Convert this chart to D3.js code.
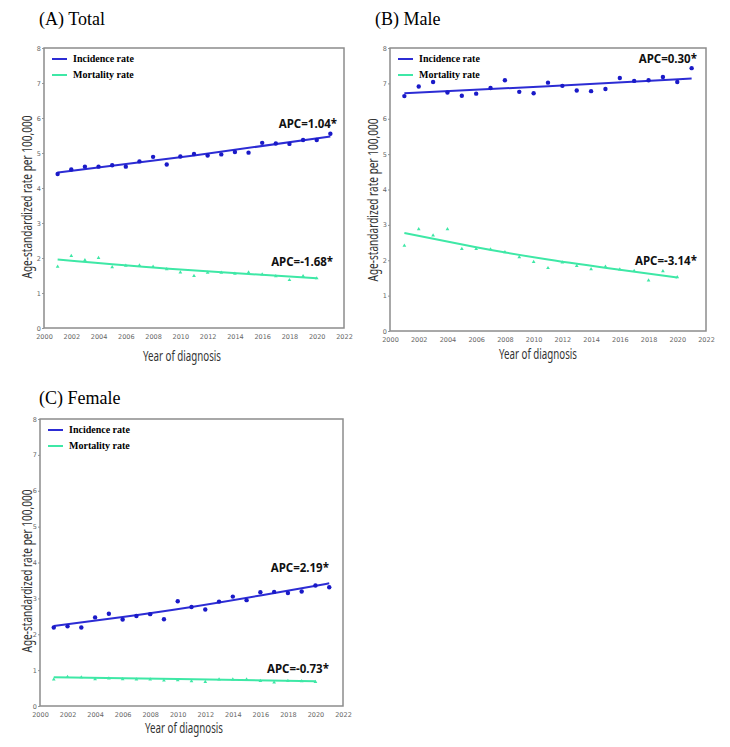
<!DOCTYPE html>
<html>
<head>
<meta charset="utf-8">
<script src="https://cdn.jsdelivr.net/npm/d3@7"></script>
<style>
  body { margin: 0; background: #fff; }
  svg { display: block; }
</style>
</head>
<body>
<svg id="chart" width="730" height="747"></svg>
<script>
// years
const incYears = d3.range(2001, 2022);
const morYears = d3.range(2001, 2021);

// (A) Total
const totalInc = [4.40, 4.53, 4.61, 4.61, 4.65, 4.61, 4.76, 4.89, 4.67, 4.90, 4.97, 4.93, 4.96, 5.03, 5.01, 5.29, 5.27, 5.26, 5.37, 5.37, 5.55];
const totalMor = [1.75, 2.06, 1.94, 2.00, 1.74, 1.78, 1.79, 1.75, 1.68, 1.59, 1.49, 1.58, 1.58, 1.55, 1.59, 1.53, 1.48, 1.37, 1.48, 1.42];
const totalIncFit = [[2001, 4.44], [2011, 4.93], [2021, 5.47]];
const totalMorFit = [[2001, 1.96], [2010, 1.67], [2020, 1.42]];

// (B) Male
const maleInc = [6.64, 6.91, 7.04, 6.74, 6.65, 6.71, 6.87, 7.09, 6.76, 6.72, 7.02, 6.93, 6.80, 6.78, 6.84, 7.15, 7.07, 7.09, 7.18, 7.04, 7.43];
const maleMor = [2.41, 2.88, 2.70, 2.88, 2.32, 2.32, 2.31, 2.23, 2.09, 1.95, 1.78, 1.94, 1.84, 1.75, 1.82, 1.74, 1.70, 1.43, 1.69, 1.52];
const maleIncFit = [[2001, 6.72], [2011, 6.92], [2021, 7.14]];
const maleMorFit = [[2001, 2.77], [2006, 2.37], [2011, 2.02], [2016, 1.73], [2020, 1.51]];

// (C) Female
const femaleInc = [2.19, 2.22, 2.19, 2.47, 2.57, 2.41, 2.51, 2.56, 2.42, 2.92, 2.76, 2.69, 2.91, 3.05, 2.95, 3.17, 3.18, 3.15, 3.19, 3.36, 3.31];
const femaleMor = [0.74, 0.81, 0.80, 0.75, 0.77, 0.75, 0.74, 0.74, 0.71, 0.72, 0.69, 0.67, 0.74, 0.74, 0.74, 0.70, 0.66, 0.70, 0.69, 0.67];
const femaleIncFit = [[2001, 2.23], [2006, 2.48], [2011, 2.76], [2016, 3.08], [2021, 3.42]];
const femaleMorFit = [[2001, 0.80], [2010, 0.75], [2020, 0.69]];

const xTicks = d3.range(2000, 2023, 2);
const yTicks = d3.range(0, 9, 1);
const legendLabels = ['Incidence rate', 'Mortality rate'];

const incColor = '#2c2cd4';
const incDot = '#1a1ac8';
const morColor = '#3ee8a6';

const svg = d3.select('#chart');

const panels = [
    {title: '(A) Total', tx: 39, ty: 25, box: {l: 44, r: 344, t: 48, b: 328},
     inc: totalInc, mor: totalMor, incFit: totalIncFit, morFit: totalMorFit,
     apc: [['APC=1.04*', 2021.49, 5.71], ['APC=-1.68*', 2021.2, 1.77]],
     ylab: {x: 27, y: 197}, xlab: {x: 182, y: 361}},
    {title: '(B) Male', tx: 375, ty: 25, box: {l: 390, r: 706, t: 48, b: 331},
     inc: maleInc, mor: maleMor, incFit: maleIncFit, morFit: maleMorFit,
     apc: [['APC=0.30*', 2021.37, 7.58], ['APC=-3.14*', 2021.37, 1.87]],
     ylab: {x: 373, y: 200}, xlab: {x: 538, y: 359}},
    {title: '(C) Female', tx: 39, ty: 404, box: {l: 40, r: 343, t: 419, b: 706},
     inc: femaleInc, mor: femaleMor, incFit: femaleIncFit, morFit: femaleMorFit,
     apc: [['APC=2.19*', 2020.98, 3.73], ['APC=-0.73*', 2020.98, 0.92]],
     ylab: {x: 27, y: 571}, xlab: {x: 184, y: 733}}
];

panels.forEach(p => {
    const b = p.box;
    const x = d3.scaleLinear().domain([2000, 2022]).range([b.l, b.r]);
    const y = d3.scaleLinear().domain([0, 8]).range([b.b, b.t]);
    const g = svg.append('g');

    // titre
    svg.append('text')
        .attr('x', p.tx).attr('y', p.ty)
        .style('font-family', '"Liberation Serif", "Times New Roman", serif')
        .style('font-size', '18px')
        .text(p.title);

    // axes
    const xa = g.append('g')
        .attr('transform', `translate(0,${b.b})`)
        .call(d3.axisBottom(x).tickValues(xTicks).tickFormat(d3.format('d')).tickSize(0).tickPadding(6));
    const ya = g.append('g')
        .attr('transform', `translate(${b.l},0)`)
        .call(d3.axisLeft(y).tickValues(yTicks).tickSize(2).tickPadding(1));
    [xa, ya].forEach(a => {
        a.select('.domain').remove();
        a.selectAll('text')
            .style('font-family', '"DejaVu Sans", sans-serif')
            .style('font-size', '6.5px')
            .style('fill', '#666');
        a.selectAll('line').style('stroke', '#999');
    });

    // cadre
    g.append('rect')
        .attr('x', b.l).attr('y', b.t)
        .attr('width', b.r - b.l).attr('height', b.b - b.t)
        .style('fill', 'none')
        .style('stroke', '#8c8c8c')
        .style('stroke-width', 1.5);

    // labels
    svg.append('text')
        .attr('transform', `translate(${p.ylab.x},${p.ylab.y}) rotate(-90)`)
        .attr('text-anchor', 'middle')
        .attr('dy', '0.35em')
        .attr('textLength', 163)
        .attr('lengthAdjust', 'spacingAndGlyphs')
        .style('font-family', '"Noto Sans", sans-serif')
        .style('font-size', '14px')
        .style('fill', '#333')
        .text('Age-standardized rate per 100,000');
    svg.append('text')
        .attr('x', p.xlab.x).attr('y', p.xlab.y)
        .attr('text-anchor', 'middle')
        .attr('textLength', 78)
        .attr('lengthAdjust', 'spacingAndGlyphs')
        .style('font-family', '"Noto Sans", sans-serif')
        .style('font-size', '14px')
        .style('fill', '#333')
        .text('Year of diagnosis');

    const line = d3.line()
        .x(d => x(d[0]))
        .y(d => y(d[1]))
        .curve(d3.curveNatural);

    // courbes de tendance
    g.append('path').datum(p.incFit)
        .attr('d', line)
        .style('fill', 'none').style('stroke', incColor).style('stroke-width', 2);
    g.append('path').datum(p.morFit)
        .attr('d', line)
        .style('fill', 'none').style('stroke', morColor).style('stroke-width', 2);

    // points
    g.selectAll('.inc').data(p.inc).join('circle')
        .attr('cx', (d, i) => x(incYears[i]))
        .attr('cy', d => y(d))
        .attr('r', 2.2)
        .style('fill', incDot);
    g.selectAll('.mor').data(p.mor).join('path')
        .attr('transform', (d, i) => `translate(${x(morYears[i])},${y(d)})`)
        .attr('d', d3.symbol(d3.symbolTriangle, 6))
        .style('fill', morColor);

    // APC
    p.apc.forEach(a => {
        svg.append('text')
            .attr('x', x(a[1])).attr('y', y(a[2]))
            .attr('text-anchor', 'end')
            .style('font-family', '"Noto Sans", sans-serif')
            .style('font-weight', 'bold')
            .style('font-size', '11.5px')
            .style('fill', '#111')
            .text(a[0]);
    });

    // legende
    legendLabels.forEach((lab, i) => {
        const ly = b.t + 11 + i * 16;
        g.append('line')
            .attr('x1', b.l + 8).attr('x2', b.l + 23)
            .attr('y1', ly).attr('y2', ly)
            .style('stroke', i === 0 ? incColor : morColor)
            .style('stroke-width', 2);
        g.append('text')
            .attr('x', b.l + 29).attr('y', ly)
            .attr('dy', '0.33em')
            .style('font-family', '"Liberation Serif", "Times New Roman", serif')
            .style('font-weight', 'bold')
            .style('font-size', '10px')
            .text(lab);
    });
});
</script>
</body>
</html>
